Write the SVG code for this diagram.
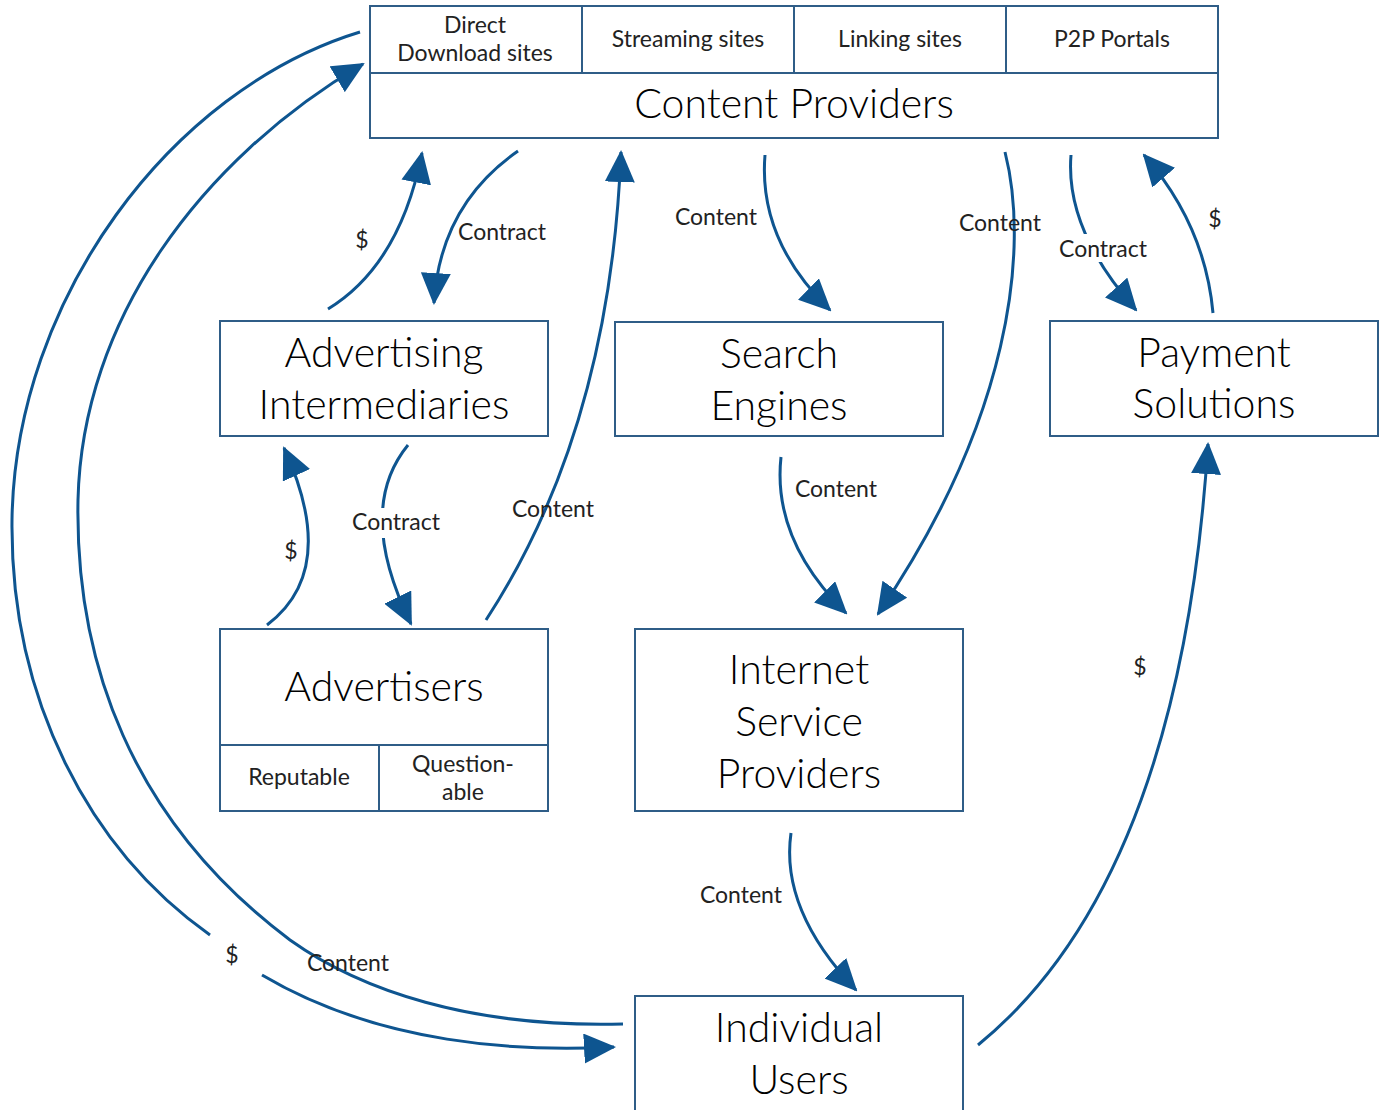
<svg xmlns="http://www.w3.org/2000/svg" width="1382" height="1110" viewBox="0 0 1382 1110">
<style>
.box{fill:#fff;stroke:#2f5d87;stroke-width:2}
.div{fill:none;stroke:#2f5d87;stroke-width:2}
.big{font-family:Lato,"Open Sans",sans-serif;font-weight:300;font-size:41px;fill:#000;text-anchor:middle}
.sm{font-family:Lato,"Open Sans",sans-serif;font-size:23px;fill:#222;text-anchor:middle}
.lbl{font-family:Lato,"Open Sans",sans-serif;font-size:23px;fill:#222;text-anchor:middle}
.con{fill:none;stroke:#0e5590;stroke-width:3;marker-end:url(#ah)}
.nm{fill:none;stroke:#0e5590;stroke-width:3}
</style>
<defs>
<marker id="ah" markerUnits="userSpaceOnUse" markerWidth="32" markerHeight="30" viewBox="0 0 32 30" refX="30" refY="15" orient="auto">
<path d="M0,0 L32,15 L0,30 z" fill="#0e5590"/>
</marker>
</defs>
<rect width="1382" height="1110" fill="#fff"/>

<g id="content-providers">
<rect class="box" x="370" y="6" width="848" height="132"/>
<path class="div" d="M370,73 H1218 M582,6 V73 M794,6 V73 M1006,6 V73"/>
<text class="sm" x="475" y="33">Direct</text>
<text class="sm" x="475" y="61">Download sites</text>
<text class="sm" x="688" y="47">Streaming sites</text>
<text class="sm" x="900" y="47">Linking sites</text>
<text class="sm" x="1112" y="47">P2P Portals</text>
<text class="big" x="794" y="118">Content Providers</text>
</g>

<g id="advertising-intermediaries">
<rect class="box" x="220" y="321" width="328" height="115"/>
<text class="big" x="384" y="367">Advertising</text>
<text class="big" x="384" y="419">Intermediaries</text>
</g>

<g id="search-engines">
<rect class="box" x="615" y="322" width="328" height="114"/>
<text class="big" x="779" y="368">Search</text>
<text class="big" x="779" y="420">Engines</text>
</g>

<g id="payment-solutions">
<rect class="box" x="1050" y="321" width="328" height="115"/>
<text class="big" x="1214" y="367">Payment</text>
<text class="big" x="1214" y="418">Solutions</text>
</g>

<g id="advertisers">
<rect class="box" x="220" y="629" width="328" height="182"/>
<path class="div" d="M220,745 H548 M379,745 V811"/>
<text class="big" x="384" y="701">Advertisers</text>
<text class="sm" x="299" y="785">Reputable</text>
<text class="sm" x="463" y="772">Question-</text>
<text class="sm" x="463" y="800">able</text>
</g>

<g id="isp">
<rect class="box" x="635" y="629" width="328" height="182"/>
<text class="big" x="799" y="684">Internet</text>
<text class="big" x="799" y="736">Service</text>
<text class="big" x="799" y="788">Providers</text>
</g>

<g id="individual-users">
<rect class="box" x="635" y="996" width="328" height="130"/>
<text class="big" x="799" y="1042">Individual</text>
<text class="big" x="799" y="1094">Users</text>
</g>

<g id="connectors">
<path class="con" d="M328,309 Q400,265 422,153"/>
<text class="lbl" x="362" y="248">$</text>
<path class="con" d="M518,151 Q440,205 434,303"/>
<text class="lbl" x="502" y="240">Contract</text>
<path class="con" d="M486,620 Q610,430 621,152"/>
<text class="lbl" x="553" y="517">Content</text>
<path class="con" d="M267,625 Q340,570 284,448"/>
<text class="lbl" x="291" y="559">$</text>
<path class="con" d="M408,445 Q355,510 411,624"/>
<rect x="350" y="508" width="94" height="30" fill="#fff"/>
<text class="lbl" x="396" y="530">Contract</text>
<path class="con" d="M765,155 Q758,240 830,310"/>
<text class="lbl" x="716" y="225">Content</text>
<path class="con" d="M1005,152 C1030,250 1010,420 878,614"/>
<text class="lbl" x="1000" y="231">Content</text>
<path class="con" d="M1071,155 Q1065,230 1136,310"/>
<rect x="1056" y="234" width="96" height="28" fill="#fff"/>
<text class="lbl" x="1103" y="257">Contract</text>
<path class="con" d="M1213,313 Q1205,225 1144,155"/>
<text class="lbl" x="1215" y="227">$</text>
<path class="con" d="M781,457 Q772,540 846,613"/>
<text class="lbl" x="836" y="497">Content</text>
<path class="con" d="M978,1045 Q1180,880 1208,444"/>
<text class="lbl" x="1140" y="675">$</text>
<path class="con" d="M791,833 Q780,910 856,990"/>
<text class="lbl" x="741" y="903">Content</text>
<path class="nm" d="M360,32 C170,90 15,300 12,520 C10,700 90,850 210,935"/>
<path class="con" d="M262,975 C380,1045 520,1052 614,1047"/>
<text class="lbl" x="232" y="963">$</text>
<path class="con" d="M623,1024 C470,1028 360,990 290,940 C130,820 75,660 78,500 C82,320 200,160 363,64"/>
<text class="lbl" x="348" y="971">Content</text>
</g>
</svg>
